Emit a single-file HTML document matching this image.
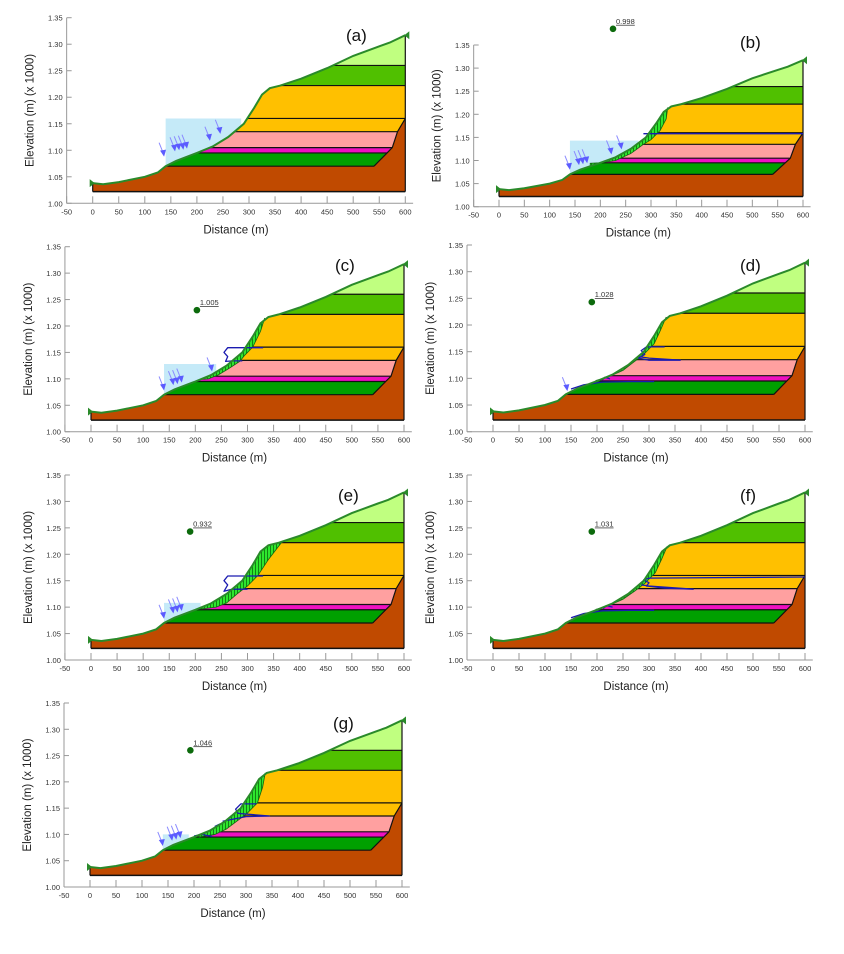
<!DOCTYPE html>
<html><head><meta charset="utf-8"><style>
html,body{margin:0;padding:0;background:#fff;}
svg{display:block;font-family:"Liberation Sans",sans-serif;}
</style></head><body>
<svg id="fig" width="844" height="954" viewBox="0 0 844 954">
<defs>
<pattern id="hatch" width="3" height="6" patternUnits="userSpaceOnUse">
<rect width="3" height="6" fill="#2ee62e"/><line x1="0.5" y1="0" x2="0.5" y2="6" stroke="#0a6a0a" stroke-width="0.8"/>
</pattern>
</defs>
</svg>
<script>
// ---- data ----
const surfaceX = [0,20,50,100,125,140,160,200,230,260,290,310,325,340,360,400,450,500,550,570,600];
const surfaceY = [1.038,1.036,1.040,1.050,1.058,1.070,1.080,1.095,1.107,1.125,1.150,1.180,1.205,1.217,1.222,1.235,1.255,1.278,1.296,1.303,1.317];
const layerTops = [1.260,1.222,1.160,1.135,1.105,1.095,1.070];
const layerColors = ["#50c000","#ffc000","#ffc000","#ffa0a0","#ee10c0","#00a000","#c04a00"];
const bedrockX = [540,565,575,585,600];
const bedrockY = [1.070,1.095,1.105,1.135,1.160];
const baseY = 1.022;
const xTicks = [-50,0,50,100,150,200,250,300,350,400,450,500,550,600];
const yTicks = [1.00,1.05,1.10,1.15,1.20,1.25,1.30,1.35];
const panelNames = ["a","b","c","d","e","f","g"];
const factorValues = [null,"0.998","1.005","1.028","0.932","1.031","1.046"];
const dotX = [null,225,203,190,190,190,193];
const dotY = [null,1.385,1.230,1.243,1.243,1.243,1.260];
const waterRight = [285,275,240,null,210,null,190];
const waterTop = [1.160,1.143,1.128,null,1.108,null,1.100];
const arrows = [
 [[137,1.088],[158,1.098],[166,1.100],[174,1.101],[181,1.103],[225,1.118],[245,1.131]],
 [[140,1.080],[158,1.090],[166,1.092],[174,1.094],[222,1.113],[242,1.124]],
 [[140,1.078],[158,1.088],[166,1.090],[174,1.093],[232,1.114]],
 [[143,1.076]],
 [[140,1.078],[158,1.088],[166,1.090],[174,1.093]],
 [],
 [[140,1.078],[158,1.088],[166,1.090],[174,1.093]]
];
const slipInnerX = [null,
 [333,330,318,300,285,260,230,200,180],
 [333,325,310,295,285,265,245,225,212],
 [333,322,310,290,270,250,220,198],
 [365,340,320,300,280,260,240,205],
 [335,324,312,292,272,250,220,198],
 [337,332,322,302,282,262,240,210]];
const slipInnerY = [null,
 [1.215,1.19,1.165,1.145,1.135,1.115,1.100,1.095,1.094],
 [1.215,1.19,1.160,1.145,1.133,1.120,1.108,1.100,1.099],
 [1.215,1.19,1.165,1.145,1.130,1.115,1.102,1.096],
 [1.222,1.19,1.160,1.140,1.125,1.108,1.100,1.096],
 [1.215,1.19,1.165,1.145,1.130,1.115,1.102,1.096],
 [1.217,1.19,1.160,1.140,1.125,1.110,1.100,1.095]];
// null entries break the slip-surface trace into separate segments
const blueX = [null,
 [285,600],
 [330,262,255,262,258,272,290],
 [150,175,210,260,310,null,330,295,285,292,280,300,360,300,285,null,210,215,225],
 [330,262,255,262,255,270,300],
 [150,175,210,260,310,null,600,300,290,300,295,330,385,300,285,null,212,218,230],
 [200,215,235,null,320,290,280,285,345,300,255,null,250,240]];
const blueY = [null,
 [1.158,1.158],
 [1.159,1.159,1.150,1.142,1.133,1.134,1.134],
 [1.080,1.088,1.093,1.094,1.094,null,1.159,1.159,1.152,1.145,1.138,1.134,1.134,1.138,1.140,null,1.097,1.102,1.099],
 [1.159,1.159,1.150,1.142,1.130,1.134,1.134],
 [1.080,1.088,1.093,1.094,1.094,null,1.157,1.155,1.152,1.146,1.140,1.136,1.134,1.140,1.142,null,1.097,1.103,1.100],
 [1.097,1.100,1.096,null,1.158,1.158,1.148,1.140,1.135,1.134,1.125,null,1.120,1.115]];
const panelLabelPos = [[346,35],[740,42],[335,265],[740,265],[338,495],[740,495],[333,723]];
const panelPx = [
 [92.7,405.3,203.3,17.7],[499,803,206.7,45],[91,404,431.7,246.7],[493,805,431.7,245],
 [91,404,660,475],[493,805,660,475],[90,402,887,703]];

const NS="http://www.w3.org/2000/svg";
const svg=document.getElementById('fig');
function el(tag,attrs,parent){const e=document.createElementNS(NS,tag);for(const k in attrs)e.setAttribute(k,attrs[k]);(parent||svg).appendChild(e);return e;}
function surfAt(x){for(let i=1;i<surfaceX.length;i++){if(x<=surfaceX[i]){const t=(x-surfaceX[i-1])/(surfaceX[i]-surfaceX[i-1]);return surfaceY[i-1]+t*(surfaceY[i]-surfaceY[i-1]);}}return surfaceY[surfaceY.length-1];}

panelNames.forEach((nm,p)=>{
 const [x0,x6,y0,y35]=panelPx[p];
 const sx=v=>x0+(v/600)*(x6-x0);
 const sy=v=>y0+(v-1.0)/0.35*(y35-y0);
 const g=el('g',{});
 
 
 const pts=(xs,ys)=>xs.map((x,i)=>sx(x).toFixed(1)+','+sy(ys[i]).toFixed(1)).join(' ');
 const axX0=sx(-50), axX1=sx(615);
 const ax=el('g',{},g);  
 el('line',{x1:axX0,y1:y0,x2:axX1,y2:y0,stroke:'#999','stroke-width':1},ax);
 el('line',{x1:axX0,y1:y0,x2:axX0,y2:y35,stroke:'#999','stroke-width':1},ax);
 xTicks.forEach(t=>{el('line',{x1:sx(t),y1:y0,x2:sx(t),y2:y0-7,stroke:'#999','stroke-width':1},ax);
  const tx=el('text',{x:sx(t),y:y0+11,'font-size':7.5,'text-anchor':'middle',fill:'#333'},ax);tx.textContent=t;});
 yTicks.forEach(t=>{el('line',{x1:axX0,y1:sy(t),x2:axX0+5,y2:sy(t),stroke:'#999','stroke-width':1},ax);
  const tx=el('text',{x:axX0-4,y:sy(t)+3,'font-size':7.5,'text-anchor':'end',fill:'#333'},ax);tx.textContent=t.toFixed(2);});
 const xt=el('text',{x:sx(275),y:y0+30,'font-size':11.5,'text-anchor':'middle',fill:'#222'},ax);xt.textContent='Distance (m)';
  
 const ytx=axX0-33, yty=(y0+y35)/2;
 const yt=el('text',{x:ytx,y:yty,'font-size':11.5,'text-anchor':'middle',fill:'#222',transform:`rotate(-90 ${ytx} ${yty})`},ax);yt.textContent='Elevation (m) (x  1000)';
  
 if(waterRight[p]){
  let d=`M${sx(140)},${sy(waterTop[p])} L${sx(waterRight[p])},${sy(waterTop[p])} `;
  for(let x=waterRight[p];x>=140;x-=5)d+=`L${sx(x)},${sy(surfAt(x))} `;d+='Z';
  const w=el('path',{d:d,fill:'#c5eaf8'},g);}
 const cid='clip'+nm;const cp=el('clipPath',{id:cid},g);
 el('polygon',{points:pts(surfaceX,surfaceY)+' '+sx(600)+','+sy(baseY)+' '+sx(0)+','+sy(baseY)},cp);
 const sl=el('g',{'clip-path':`url(#${cid})`},g);
 el('rect',{x:sx(0),y:sy(1.35),width:sx(600)-sx(0),height:sy(baseY)-sy(1.35),fill:'#c0ff80'},sl);
 layerTops.forEach((t,i)=>{const r=el('rect',{x:sx(0),y:sy(t),width:sx(600)-sx(0),height:sy(baseY)-sy(t),fill:layerColors[i]},sl);
  });
 el('polygon',{points:pts(bedrockX,bedrockY)+' '+sx(600)+','+sy(baseY)+' '+sx(540)+','+sy(baseY),fill:'#c04a00'},sl);
 layerTops.forEach(t=>{let right=600;for(let i=1;i<bedrockX.length;i++){if(t<=bedrockY[i]&&t>=bedrockY[i-1]){right=bedrockX[i-1]+(t-bedrockY[i-1])/(bedrockY[i]-bedrockY[i-1])*(bedrockX[i]-bedrockX[i-1]);}}
  el('line',{x1:sx(0),y1:sy(t),x2:sx(right),y2:sy(t),stroke:'#111','stroke-width':1.2},sl);});
 el('polyline',{points:pts(bedrockX,bedrockY),fill:'none',stroke:'#111','stroke-width':1.2},sl);
 el('line',{x1:sx(0),y1:sy(baseY),x2:sx(600),y2:sy(baseY),stroke:'#111','stroke-width':1.5},g);
 el('line',{x1:sx(600),y1:sy(baseY),x2:sx(600),y2:sy(1.317),stroke:'#111','stroke-width':1.2},g);
 el('line',{x1:sx(0),y1:sy(baseY),x2:sx(0),y2:sy(1.038),stroke:'#111','stroke-width':1.2},g);
 if(slipInnerX[p]){const ix=slipInnerX[p],iy=slipInnerY[p];const start=ix[ix.length-1],end=ix[0];
  let d='M'+sx(start)+','+sy(surfAt(start));for(let x=start;x<=end;x+=3)d+=` L${sx(x)},${sy(surfAt(x))}`;
  for(let i=0;i<ix.length;i++)d+=` L${sx(ix[i])},${sy(iy[i])}`;d+='Z';
  const z=el('path',{d:d,fill:'url(#hatch)',stroke:'#116611','stroke-width':0.8},g);}
 if(blueX[p]){let d='';let pen=false;
  blueX[p].forEach((x,i)=>{if(x===null){pen=false;return;}d+=(pen?' L':' M')+sx(x).toFixed(1)+','+sy(blueY[p][i]).toFixed(1);pen=true;});
  const b=el('path',{d:d,fill:'none',stroke:'#1a1ab0','stroke-width':1.3,'stroke-linejoin':'round'},g);
  }
 const s=el('polyline',{points:pts(surfaceX,surfaceY),fill:'none',stroke:'#2a8a2a','stroke-width':2},g);
 
 el('path',{d:`M${sx(0)-3},${sy(1.038)-4} l5,4 l-5,4z`,fill:'#2a8a2a'},g);
 el('path',{d:`M${sx(600)+4},${sy(1.317)-4} l-5,4 l5,4z`,fill:'#2a8a2a'},g);
 arrows[p].forEach(a=>{const tx=sx(a[0]),ty=sy(a[1]);const ar=el('g',{},g);
  
  el('line',{x1:tx-5,y1:ty-14,x2:tx-1,y2:ty-4,stroke:'#8a8aff','stroke-width':1},ar);
  el('path',{d:`M${tx-4},${ty-6} L${tx+2},${ty-7} L${tx},${ty}Z`,fill:'#5b5bff'},ar);});
 if(factorValues[p]){const dx=sx(dotX[p]),dy=sy(dotY[p]);
  const c=el('circle',{cx:dx,cy:dy,r:3.3,fill:'#0c6a0c'},g);
  const t=el('text',{x:dx+3,y:dy-5,'font-size':7.5,fill:'#333','text-decoration':'underline'},g);t.textContent=factorValues[p];
  }
 const lb=el('text',{x:panelLabelPos[p][0],y:panelLabelPos[p][1]+6,'font-size':17,fill:'#111'},g);lb.textContent='('+nm+')';
 
});
</script>
</body></html>
